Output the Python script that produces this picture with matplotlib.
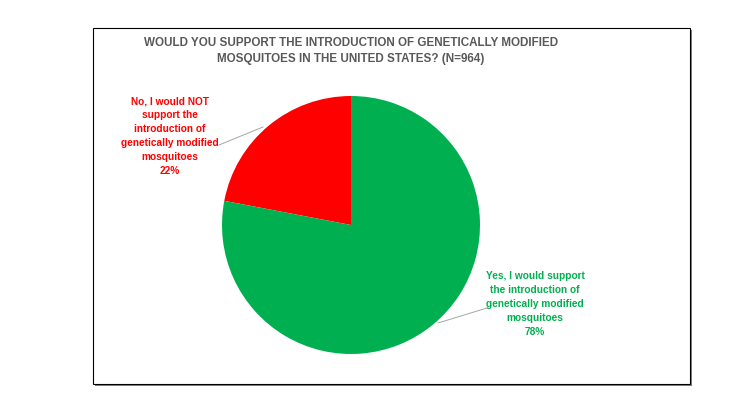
import matplotlib.pyplot as plt
from matplotlib.patches import Rectangle

labels = ["No, I would NOT\nsupport the\nintroduction of\ngenetically modified\nmosquitoes", "Yes, I would support\nthe introduction of\ngenetically modified\nmosquitoes"]
values = [22, 78]
colors = ["#FF0000", "#00B050"]
title = "WOULD YOU SUPPORT THE INTRODUCTION OF GENETICALLY MODIFIED\nMOSQUITOES IN THE UNITED STATES? (N=964)"

plt.rcParams['font.family'] = ['Liberation Sans Narrow', 'Liberation Sans', 'DejaVu Sans']

W, H = 736, 414
fig = plt.figure(figsize=(W / 100, H / 100), dpi=100)
ax = fig.add_axes([0, 0, 1, 1])

# chart frame with a slight shadow on the right/bottom
ax.add_patch(Rectangle((95, H - 387), 597, 356, facecolor='#7f7f7f', edgecolor='none'))
ax.add_patch(Rectangle((93, H - 385), 597, 356, facecolor='white', edgecolor='black', lw=0.8))

cx, cy, r = 351, H - 226, 129
ax.pie(values, colors=colors, startangle=90, counterclock=True,
       center=(cx, cy), radius=r, frame=True,
       wedgeprops=dict(linewidth=0))
ax.set_xlim(0, W)
ax.set_ylim(0, H)
ax.set_aspect('equal')
ax.axis('off')

ax.text(351, H - 51, title, ha='center', va='center', fontsize=8.4,
        fontweight='bold', color='#595959', linespacing=1.45)

# data labels with leader lines
ax.plot([219, 263], [H - 146, H - 128], color='#a6a6a6', lw=0.7)
ax.text(170, H - 136, labels[0] + "\n%d%%" % values[0], ha='center', va='center',
        fontsize=7.3, fontweight='bold', color=colors[0], linespacing=1.5)
ax.plot([438, 487], [H - 324, H - 309], color='#a6a6a6', lw=0.7)
ax.text(535, H - 304, labels[1] + "\n%d%%" % values[1], ha='center', va='center',
        fontsize=7.3, fontweight='bold', color=colors[1], linespacing=1.5)

fig.savefig('out.png', dpi=100)
